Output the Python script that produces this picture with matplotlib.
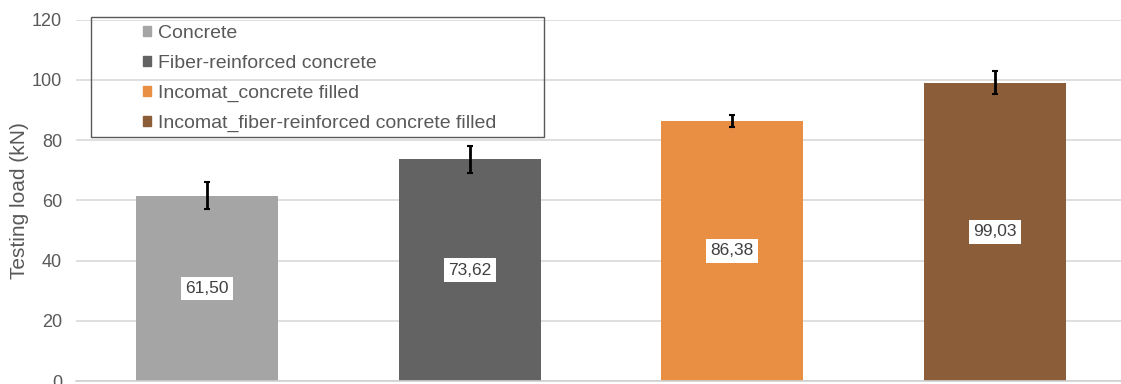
import matplotlib
matplotlib.use("Agg")
import matplotlib.pyplot as plt
from matplotlib.patches import Rectangle

plt.rcParams['font.family'] = ['Liberation Sans', 'DejaVu Sans']

# данные
labels = ['Concrete', 'Fiber-reinforced concrete',
          'Incomat_concrete filled', 'Incomat_fiber-reinforced concrete filled']
loads = [61.50, 73.62, 86.38, 99.03]
errors = [4.5, 4.5, 2.0, 3.8]
value_text = ['61,50', '73,62', '86,38', '99,03']
colors = ['#A5A5A5', '#636363', '#E88F44', '#8B5D39']

fig = plt.figure(figsize=(11.21, 3.84), dpi=100)
ax = fig.add_axes([76 / 1121, 3 / 384, 1050 / 1121, 361.2 / 384])

x = list(range(len(loads)))
bars = ax.bar(x, loads, width=0.54, color=colors, zorder=2)
ax.errorbar(x, loads, yerr=errors, fmt='none', ecolor='black',
            elinewidth=2, capsize=2, capthick=1.5, zorder=3)

# подписи значений в центре столбцов
for xi, v, t in zip(x, loads, value_text):
    ax.text(xi, v / 2, t, ha='center', va='center', fontsize=12.5,
            color='#404040', zorder=4,
            bbox=dict(boxstyle='square,pad=0.25', fc='white', ec='none'))

ax.set_xlim(-0.5, 3.5)
ax.set_ylim(0, 120)
ax.set_yticks([0, 20, 40, 60, 80, 100, 120])
ax.set_xticks([])
ax.tick_params(axis='y', length=0, pad=10, labelsize=13, labelcolor='#595959')
ax.grid(axis='y', color='#D9D9D9', linewidth=1.2, zorder=0)
ax.set_axisbelow(True)
for s in ['top', 'right', 'left']:
    ax.spines[s].set_visible(False)
ax.spines['bottom'].set_color('#D0D0D0')
ax.spines['bottom'].set_linewidth(1.2)

ax.set_ylabel('Testing load (kN)', fontsize=15, color='#595959')
ax.yaxis.set_label_coords(-0.045, 0.5)

# легенда с отдельной рамкой
handles = [plt.Rectangle((0, 0), 1, 1, color=c) for c in colors]
fig.legend(handles, labels, loc='upper left',
           bbox_to_anchor=(143 / 1121, (384 - 25) / 384),
           frameon=False, fontsize=14, labelcolor='#595959',
           handlelength=0.42, handleheight=0.42, handletextpad=0.35,
           labelspacing=0.66, borderpad=0, borderaxespad=0)
fig.patches.append(Rectangle((91 / 1121, (384 - 137) / 384), 453 / 1121, 120 / 384,
                             transform=fig.transFigure, fill=False,
                             edgecolor='#595959', linewidth=1.0))

fig.savefig('out.png', dpi=100)
